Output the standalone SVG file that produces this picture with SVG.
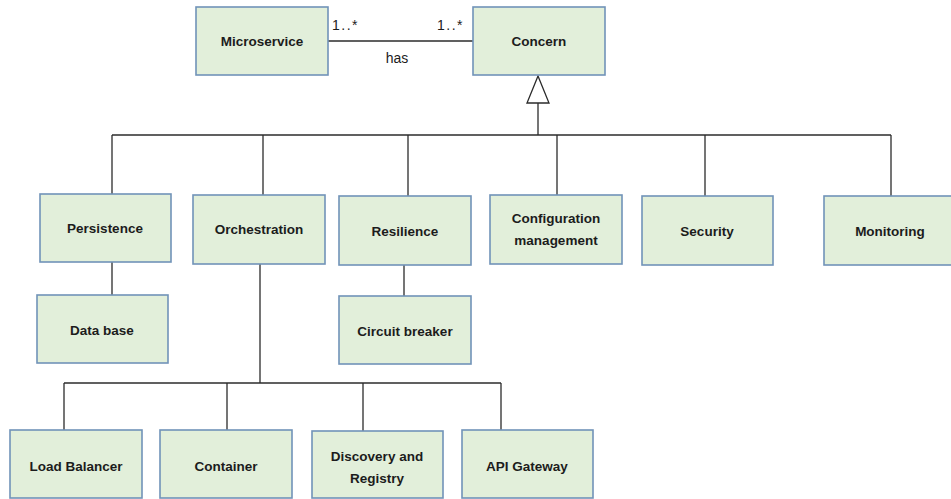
<svg xmlns="http://www.w3.org/2000/svg" width="951" height="499" viewBox="0 0 951 499">
  <style>
    .box { fill: #e2efda; stroke: #7193b8; stroke-width: 1.6; }
    .lbl { font-family: "Liberation Sans", Arial, sans-serif; font-size: 13.5px; font-weight: bold; fill: #1c1c1c; text-anchor: middle; dominant-baseline: central; }
    .note { font-family: "Liberation Sans", Arial, sans-serif; font-size: 14px; fill: #1c1c1c; }
    .mult { letter-spacing: 1.5px; }
    .wire { fill: none; stroke: #2b2b2b; stroke-width: 1.3; }
  </style>
  <rect width="951" height="499" fill="#ffffff"/>

  <!-- connectors -->
  <g id="connectors" class="wire">
    <!-- association Microservice - Concern -->
    <line x1="328" y1="41" x2="473" y2="41"/>
    <!-- generalization into Concern -->
    <polygon points="538,76 527,103 549,103" fill="#ffffff"/>
    <line x1="538" y1="103" x2="538" y2="135"/>
    <line x1="112" y1="135" x2="891" y2="135"/>
    <line x1="112" y1="135" x2="112" y2="194"/>
    <line x1="263" y1="135" x2="263" y2="195"/>
    <line x1="408" y1="135" x2="408" y2="196"/>
    <line x1="557" y1="135" x2="557" y2="195"/>
    <line x1="705" y1="135" x2="705" y2="196"/>
    <line x1="891" y1="135" x2="891" y2="196"/>
    <!-- Persistence - Data base -->
    <line x1="112" y1="262" x2="112" y2="295"/>
    <!-- Resilience - Circuit breaker -->
    <line x1="404" y1="265" x2="404" y2="296"/>
    <!-- Orchestration tree -->
    <line x1="260" y1="264" x2="260" y2="383"/>
    <line x1="64" y1="383" x2="501" y2="383"/>
    <line x1="64" y1="383" x2="64" y2="430"/>
    <line x1="227" y1="383" x2="227" y2="430"/>
    <line x1="363" y1="383" x2="363" y2="431"/>
    <line x1="501" y1="383" x2="501" y2="430"/>
  </g>

  <!-- association labels -->
  <g id="association-labels">
    <text class="note mult" x="332" y="30">1..*</text>
    <text class="note mult" x="437" y="30">1..*</text>
    <text class="note" x="397" y="63" text-anchor="middle">has</text>
  </g>

  <g id="microservice"><rect class="box" x="196" y="7" width="132" height="68"/><text class="lbl" x="262" y="41">Microservice</text></g>
  <g id="concern"><rect class="box" x="473" y="7" width="132" height="68"/><text class="lbl" x="539" y="41">Concern</text></g>

  <g id="persistence"><rect class="box" x="40" y="194" width="131" height="68"/><text class="lbl" x="105" y="228">Persistence</text></g>
  <g id="orchestration"><rect class="box" x="193" y="195" width="132" height="69"/><text class="lbl" x="259" y="229">Orchestration</text></g>
  <g id="resilience"><rect class="box" x="339" y="196" width="132" height="69"/><text class="lbl" x="405" y="231">Resilience</text></g>
  <g id="configuration-management"><rect class="box" x="490" y="195" width="132" height="69"/><text class="lbl" x="556" y="218">Configuration</text><text class="lbl" x="556" y="240">management</text></g>
  <g id="security"><rect class="box" x="642" y="196" width="131" height="69"/><text class="lbl" x="707" y="231">Security</text></g>
  <g id="monitoring"><rect class="box" x="824" y="196" width="131" height="69"/><text class="lbl" x="890" y="231">Monitoring</text></g>

  <g id="data-base"><rect class="box" x="37" y="295" width="131" height="68"/><text class="lbl" x="102" y="330">Data base</text></g>
  <g id="circuit-breaker"><rect class="box" x="339" y="296" width="132" height="68"/><text class="lbl" x="405" y="331">Circuit breaker</text></g>

  <g id="load-balancer"><rect class="box" x="10" y="430" width="132" height="68"/><text class="lbl" x="76" y="466">Load Balancer</text></g>
  <g id="container"><rect class="box" x="160" y="430" width="132" height="68"/><text class="lbl" x="226" y="466">Container</text></g>
  <g id="discovery-registry"><rect class="box" x="312" y="431" width="131" height="67"/><text class="lbl" x="377" y="456">Discovery and</text><text class="lbl" x="377" y="478">Registry</text></g>
  <g id="api-gateway"><rect class="box" x="462" y="430" width="131" height="68"/><text class="lbl" x="527" y="466">API Gateway</text></g>
</svg>
